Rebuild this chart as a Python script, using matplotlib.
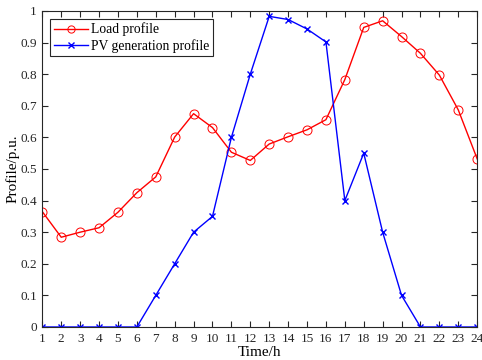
import matplotlib.pyplot as plt
import numpy as np

plt.rcParams['font.family'] = ['Liberation Serif', 'DejaVu Serif']

# hour of day
hours = np.arange(1, 25)

# load profile (p.u.)
load = [0.365, 0.284, 0.300, 0.314, 0.363, 0.425, 0.475, 0.601, 0.675, 0.631,
        0.553, 0.527, 0.579, 0.602, 0.624, 0.656, 0.783, 0.948, 0.969, 0.919,
        0.866, 0.797, 0.687, 0.532]

# PV generation profile (p.u.)
pv = [0, 0, 0, 0, 0, 0, 0.1, 0.2, 0.3, 0.35,
      0.6, 0.8, 0.983, 0.973, 0.943, 0.902, 0.4, 0.55, 0.3, 0.1,
      0, 0, 0, 0]

fig = plt.figure(figsize=(4.82, 3.6), dpi=100)
ax = fig.add_axes([0.0878, 0.0917, 0.9022, 0.8778])

ax.plot(hours, load, color='#FF0000', linewidth=1, marker='o', markersize=6.5,
        markerfacecolor='none', markeredgewidth=0.7, label='Load profile')
ax.plot(hours, pv, color='#0000FF', linewidth=1, marker='x', markersize=5,
        markeredgewidth=1, label='PV generation profile')

ax.set_xlim(1, 24)
ax.set_ylim(0, 1)
ax.set_xticks(hours)
ax.set_yticks(np.arange(0, 1.01, 0.1))
ax.set_yticklabels(['0', '0.1', '0.2', '0.3', '0.4', '0.5', '0.6', '0.7', '0.8', '0.9', '1'])
ax.tick_params(direction='in', top=True, right=True, labelsize=9.5, length=4,
               width=0.8, colors='#262626', pad=4)
for sp in ax.spines.values():
    sp.set_linewidth(0.8)
    sp.set_color('#262626')

ax.set_xlabel('Time/h', fontsize=11, labelpad=1)
ax.set_ylabel('Profile/p.u.', fontsize=11, labelpad=0.5)

leg = ax.legend(loc='upper left', fontsize=9.8, fancybox=False, edgecolor='#262626',
                framealpha=1, borderaxespad=0.6, handlelength=2.5,
                borderpad=0.25, labelspacing=0.2, handletextpad=0.25,
                markerscale=0.8)
leg.get_frame().set_linewidth(0.8)

plt.savefig('out.png', dpi=100)
